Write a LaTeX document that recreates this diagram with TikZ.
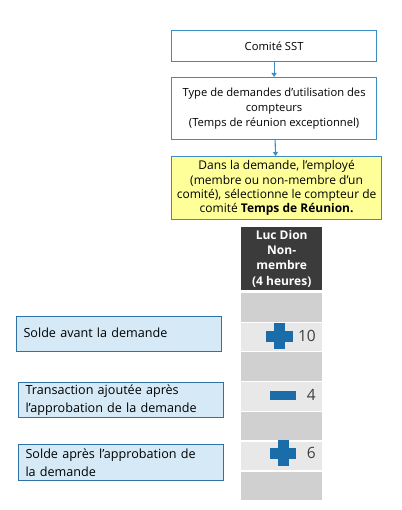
\documentclass[tikz,border=0pt]{standalone}
\usepackage{fontspec}
\setmainfont{Open Sans}
\usetikzlibrary{arrows.meta}
\definecolor{bord}{HTML}{3A8CC4}
\definecolor{lbord}{HTML}{2F73A6}
\definecolor{lfill}{HTML}{D5E9F6}
\definecolor{yfill}{HTML}{FFFF99}
\definecolor{hdr}{HTML}{3B3B3B}
\definecolor{rowa}{HTML}{D0D0D0}
\definecolor{rowb}{HTML}{E8E8E8}
\definecolor{sign}{HTML}{1B6DAA}
\definecolor{num}{HTML}{3F3F3F}
\begin{document}
\begin{tikzpicture}[x=1pt,y=-1pt,
  topbox/.style={draw=bord,line width=1.2pt,fill=white,minimum width=205pt,align=center,font=\fontsize{11.2}{15.3}\selectfont,inner sep=0pt},
  lbox/.style={draw=lbord,line width=1.1pt,fill=lfill,minimum width=205pt,text width=191pt,align=left,font=\fontsize{12.6}{17.5}\selectfont,inner xsep=7pt,inner ysep=0pt,anchor=north west},
  cell/.style={minimum width=81pt,inner sep=0pt,anchor=north west},
  arr/.style={draw=bord,line width=1.1pt,-{Triangle[length=4pt,width=5pt]}},
  numtxt/.style={font=\fontsize{15.5}{17}\selectfont,text=num,anchor=east,inner sep=0pt}]
\useasboundingbox (0,0) rectangle (401,510);
% top flow
\node[topbox,minimum width=205pt,minimum height=31pt,anchor=north west] (b1) at (171,30) {Comité SST};
\node[topbox,minimum width=205pt,minimum height=62pt,anchor=north west] (b2) at (171,77) {Type de demandes d’utilisation des\\compteurs\\(Temps de réunion exceptionnel)};
\node[topbox,fill=yfill,minimum width=210pt,minimum height=63pt,anchor=north west,font=\fontsize{12}{14.3}\selectfont] (b3) at (171,156) {Dans la demande, l’employé\\(membre ou non-membre d’un\\comité), sélectionne le compteur de\\comité \textbf{Temps de Réunion.}};
\draw[arr] (b1) -- (b2);
\draw[arr] (b2) -- (b3);
% column
\node[cell,fill=hdr,minimum height=63pt,text=white,align=center,font=\bfseries\fontsize{12}{15.3}\selectfont] (h) at (241,227) {Luc Dion\\Non-\\membre\\(4 heures)};
\node[cell,fill=rowa,minimum height=29pt] (r1) at (241,293) {};
\node[cell,fill=rowb,minimum height=28pt] (r2) at (241,323) {};
\node[cell,fill=rowa,minimum height=29pt] (r3) at (241,352) {};
\node[cell,fill=rowb,minimum height=29pt] (r4) at (241,382) {};
\node[cell,fill=rowa,minimum height=28pt] (r5) at (241,412) {};
\node[cell,fill=rowb,minimum height=28pt] (r6) at (241,442) {};
\node[cell,fill=rowa,minimum height=28pt] (r7) at (241,472) {};
% signs
\fill[sign] (266,330.5) rectangle (293,341.5);
\fill[sign] (274,323) rectangle (285,349);
\node[numtxt] (n1) at (316,336) {10};
\fill[sign] (270,390.5) rectangle (296,400);
\node[numtxt] (n2) at (316,395) {4};
\fill[sign] (270,447.5) rectangle (296,458.5);
\fill[sign] (277.5,440) rectangle (288.5,466);
\node[numtxt] (n3) at (316,453) {6};
% left boxes
\node[lbox,minimum height=35pt] (l1) at (16,316) {\strut Solde avant la demande};
\node[lbox,minimum height=35pt] (l2) at (18,382) {Transaction ajoutée après\\l’approbation de la demande};
\node[lbox,minimum height=36pt] (l3) at (18,444) {Solde après l’approbation de\\la demande};
\end{tikzpicture}
\end{document}
